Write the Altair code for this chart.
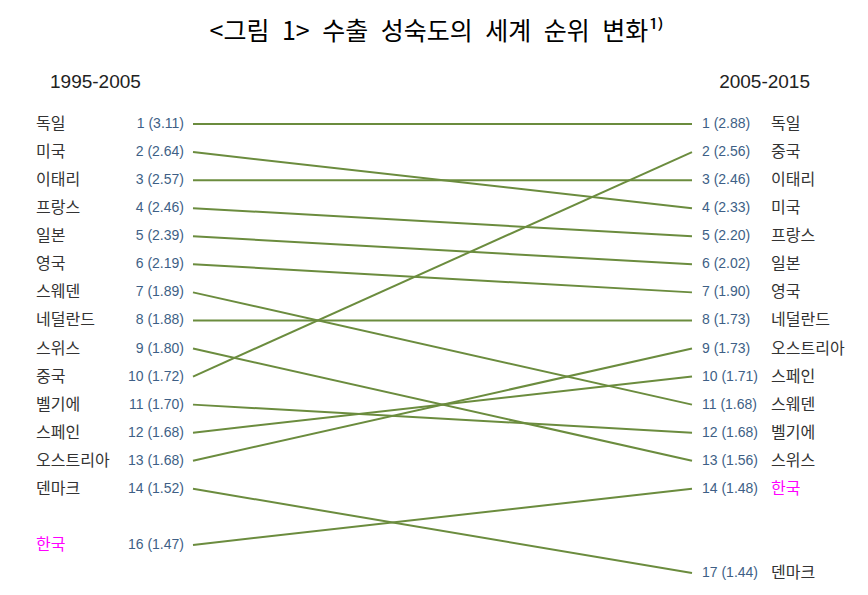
import altair as alt
import pandas as pd

# 1995-2005 ranking
left_names = ["독일", "미국", "이태리", "프랑스", "일본", "영국", "스웨덴", "네덜란드",
              "스위스", "중국", "벨기에", "스페인", "오스트리아", "덴마크", "한국"]
left_ranks = [1, 2, 3, 4, 5, 6, 7, 8, 9, 10, 11, 12, 13, 14, 16]
left_scores = [3.11, 2.64, 2.57, 2.46, 2.39, 2.19, 1.89, 1.88, 1.80, 1.72, 1.70, 1.68, 1.68, 1.52, 1.47]

# 2005-2015 ranking
right_names = ["독일", "중국", "이태리", "미국", "프랑스", "일본", "영국", "네덜란드",
               "오스트리아", "스페인", "스웨덴", "벨기에", "스위스", "한국", "덴마크"]
right_ranks = [1, 2, 3, 4, 5, 6, 7, 8, 9, 10, 11, 12, 13, 14, 17]
right_scores = [2.88, 2.56, 2.46, 2.33, 2.20, 2.02, 1.90, 1.73, 1.73, 1.71, 1.68, 1.68, 1.56, 1.48, 1.44]

periods = ["1995-2005", "2005-2015"]
title_text = "<그림 1> 수출 성숙도의 세계 순위 변화¹⁾"

FONT = "Liberation Sans, Noto Sans CJK KR, sans-serif"

left = pd.DataFrame({"country": left_names, "rank": left_ranks, "score": left_scores, "side": 0})
right = pd.DataFrame({"country": right_names, "rank": right_ranks, "score": right_scores, "side": 1})
df = pd.concat([left, right], ignore_index=True)
df["value_label"] = df.apply(lambda r: f"{int(r['rank'])} ({r['score']:.2f})", axis=1)
df["korea"] = df["country"] == "한국"

x = alt.X("side:Q", scale=alt.Scale(domain=[0, 1], range=[185, 684]), axis=None)
y = alt.Y("rank:Q", scale=alt.Scale(domain=[1, 17], range=[116, 565]), axis=None)

base = alt.Chart(df).encode(x=x, y=y)

lines = base.mark_line(color="#6b8c3e", strokeWidth=2).encode(
    detail="country:N", order="side:Q"
)

name_color = alt.condition(alt.datum.korea, alt.value("#ff00ff"), alt.value("#333333"))

left_names_txt = base.transform_filter(alt.datum.side == 0).mark_text(
    align="left", baseline="middle", dx=-157, fontSize=16, font=FONT
).encode(text="country:N", color=name_color)

left_vals = base.transform_filter(alt.datum.side == 0).mark_text(
    align="right", baseline="middle", dx=-9, fontSize=14, font=FONT, color="#3e5f86"
).encode(text="value_label:N")

right_vals = base.transform_filter(alt.datum.side == 1).mark_text(
    align="left", baseline="middle", dx=10, fontSize=14, font=FONT, color="#3e5f86"
).encode(text="value_label:N")

right_names_txt = base.transform_filter(alt.datum.side == 1).mark_text(
    align="left", baseline="middle", dx=79, fontSize=16, font=FONT
).encode(text="country:N", color=name_color)

# period headers
hdr = pd.DataFrame({"label": periods, "side": [0, 1], "rank": [-0.5, -0.5]})
hdr_left = alt.Chart(hdr).transform_filter(alt.datum.side == 0).mark_text(
    align="left", baseline="middle", dx=-143, fontSize=19, font=FONT, color="#222222"
).encode(x=x, y=y, text="label:N")
hdr_right = alt.Chart(hdr).transform_filter(alt.datum.side == 1).mark_text(
    align="right", baseline="middle", dx=118, fontSize=19, font=FONT, color="#222222"
).encode(x=x, y=y, text="label:N")

# wide word gaps like the original figure caption
title = alt.Chart(pd.DataFrame({"t": [title_text.replace(" ", "\u2002")]})).mark_text(
    align="center", baseline="middle", fontSize=25,
    font="Noto Sans CJK KR", color="#000000"
).encode(x=alt.value(429), y=alt.value(24), text="t:N")

chart = (
    alt.layer(lines, left_names_txt, left_vals, right_vals, right_names_txt,
              hdr_left, hdr_right, title)
    .properties(width=852, height=579, autosize=alt.AutoSizeParams(type="none"), padding=0)
    .configure_view(stroke=None)
)

chart.save("out.html", embed_options={"renderer": "svg", "actions": False})
